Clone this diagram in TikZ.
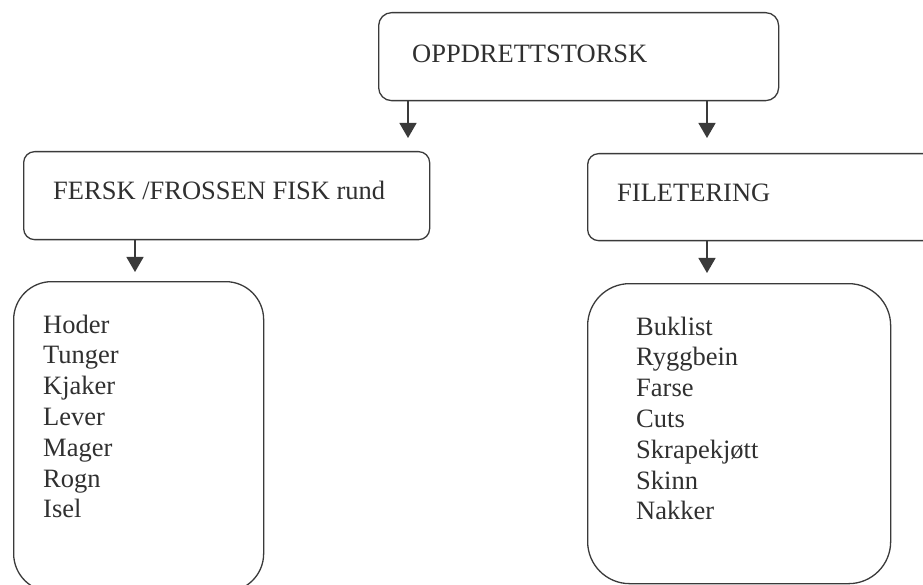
\documentclass[tikz,border=0pt]{standalone}
\usepackage{fontspec}
\setmainfont{Liberation Serif}
\usetikzlibrary{arrows.meta}
\definecolor{linec}{HTML}{3A3A3A}
\definecolor{textc}{HTML}{303030}
\begin{document}
\begin{tikzpicture}[x=1pt,y=-1pt,
  box/.style={draw=linec, line width=1.3pt, inner sep=0pt, anchor=north west},
  lbl/.style={anchor=base west, inner sep=0pt, text=textc, font=\fontsize{26.5}{30.8}\selectfont},
  arr/.style={draw=linec, line width=1.3pt, -{Triangle[width=17pt,length=15pt]}}]
\useasboundingbox (0,0) rectangle (923,585);
\clip (0,0) rectangle (923,585);
\fill[white] (0,0) rectangle (923,585);
% boxes
\node[box, rounded corners=13pt, minimum width=400pt, minimum height=88pt] (top) at (378,12) {};
\node[box, rounded corners=11pt, minimum width=406pt, minimum height=88pt] (fersk) at (23,151) {};
\node[box, rounded corners=11pt, minimum width=360pt, minimum height=87pt] (filet) at (587,153) {};
\node[box, rounded corners=38pt, minimum width=250pt, minimum height=310pt] (lbox) at (13,281) {};
\node[box, rounded corners=42pt, minimum width=303pt, minimum height=300pt] (rbox) at (587,283) {};
% texts
\node[lbl] (ttop) at (412,63) {OPPDRETTSTORSK};
\node[lbl] (tfersk) at (53,200) {FERSK /FROSSEN FISK rund};
\node[lbl] (tfilet) at (617,202) {FILETERING};
\node[lbl] (tl) at (43,333) {\vtop{\baselineskip=30.8pt\hbox{Hoder}\hbox{Tunger}\hbox{Kjaker}\hbox{Lever}\hbox{Mager}\hbox{Rogn}\hbox{Isel}}};
\node[lbl] (tr) at (636,335) {\vtop{\baselineskip=30.8pt\hbox{Buklist}\hbox{Ryggbein}\hbox{Farse}\hbox{Cuts}\hbox{Skrapekjøtt}\hbox{Skinn}\hbox{Nakker}}};
% arrow tips
\coordinate (ta) at (408,138);
\coordinate (tb) at (707,138);
\coordinate (tc) at (135,272);
\coordinate (td) at (707,273);
\draw[arr] (ta |- top.south) -- (ta);
\draw[arr] (tb |- top.south) -- (tb);
\draw[arr] (tc |- fersk.south) -- (tc);
\draw[arr] (td |- filet.south) -- (td);
\end{tikzpicture}
\end{document}
